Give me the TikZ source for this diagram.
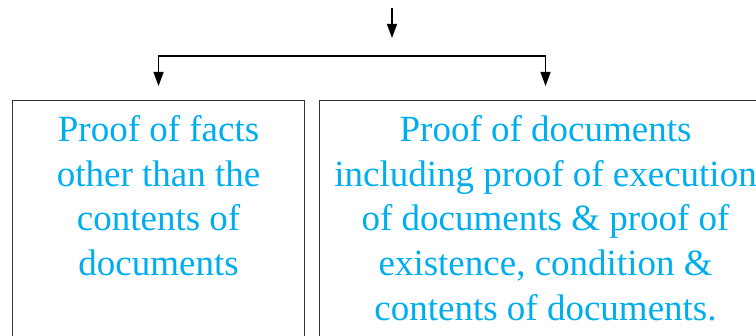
\documentclass[tikz,border=0pt]{standalone}
\usepackage{fontspec}
\setmainfont{Liberation Serif}
\usetikzlibrary{arrows.meta,positioning}
\definecolor{proofcyan}{RGB}{0,174,239}
\begin{document}
\begin{tikzpicture}
[
	x=1pt,y=1pt,
	box/.style={draw=black!80,line width=1.1pt,minimum width=#1,minimum height=260pt,inner sep=0pt,anchor=north west},
	txt/.style={text=proofcyan,align=center,inner sep=0pt,font=\fontsize{37}{44.8}\selectfont},
	arrow/.style={-{Triangle[length=14pt,width=10pt]},line width=1.3pt}
]

	\useasboundingbox (0,0) rectangle (756,336);
	\clip (0,0) rectangle (756,336);

	% boxes
	\node[box=292pt] (facts) at (12,236) {};
	\node[box=452pt] (docs) at (319,236) {};

	\node[txt,below=15pt of facts.north] (factstext) {Proof of facts\\other than the\\contents of\\documents};
	\node[txt,below=15pt of docs.north] (docstext) {Proof of documents\\including proof of execution\\of documents \& proof of\\existence, condition \&\\contents of documents.};

	% arrows
	\coordinate (in) at (392,328);
	\draw[arrow] (in) -- ++(0,-30);
	\draw[arrow] ([yshift=44pt]docs.north) -| ([yshift=14pt]facts.north);
	\draw[arrow] ([yshift=44pt]docs.north) -- ([yshift=14pt]docs.north);

\end{tikzpicture}
\end{document}
